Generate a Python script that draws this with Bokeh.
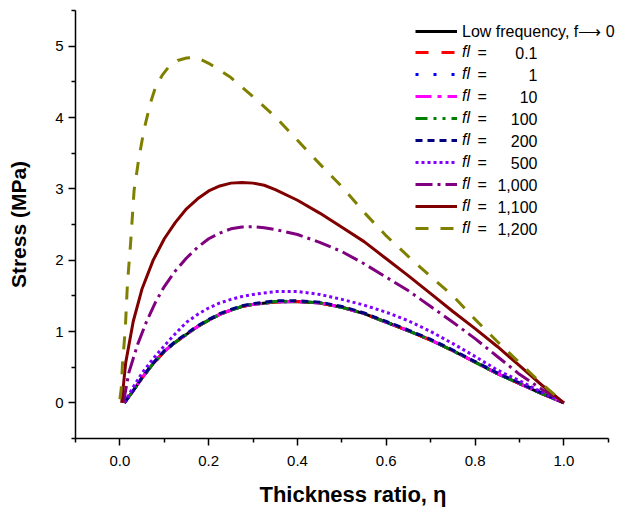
from bokeh.plotting import figure
from bokeh.models import (Range1d, FixedTicker, Legend, LegendItem, Label,
                          PrintfTickFormatter)
from bokeh.core.properties import value
from bokeh.embed import file_html
from bokeh.resources import INLINE

FONT = "Liberation Sans"

# ---------------- axes ----------------
x_major = [0.0, 0.2, 0.4, 0.6, 0.8, 1.0]
x_minor = [-0.1, 0.1, 0.3, 0.5, 0.7, 0.9, 1.1]
y_major = [0, 1, 2, 3, 4, 5]
y_minor = [-0.5, 0.5, 1.5, 2.5, 3.5, 4.5, 5.5]

# ---------------- data ----------------
eta_low = [0.01, 0.03, 0.05, 0.075, 0.1, 0.125, 0.15, 0.175, 0.2, 0.225, 0.25, 0.275,
           0.3, 0.35, 0.4, 0.45, 0.5, 0.55, 0.6, 0.65, 0.7, 0.75, 0.8, 0.85, 0.9, 0.95, 1.0]
stress_f0 = [0.0, 0.17, 0.35, 0.55, 0.72, 0.85, 0.96, 1.07, 1.16, 1.24, 1.30, 1.35,
             1.38, 1.415, 1.42, 1.40, 1.34, 1.25, 1.13, 1.01, 0.88, 0.73, 0.57, 0.41,
             0.27, 0.13, 0.0]
stress_0p1 = [0.0, 0.17, 0.35, 0.55, 0.72, 0.85, 0.96, 1.07, 1.16, 1.24, 1.30, 1.35,
              1.38, 1.415, 1.42, 1.40, 1.34, 1.25, 1.13, 1.01, 0.88, 0.73, 0.57, 0.41,
              0.27, 0.13, 0.0]
stress_1 = [0.0, 0.17, 0.35, 0.55, 0.72, 0.85, 0.96, 1.07, 1.16, 1.24, 1.30, 1.35,
            1.38, 1.415, 1.42, 1.40, 1.34, 1.25, 1.13, 1.01, 0.88, 0.73, 0.57, 0.41,
            0.27, 0.13, 0.0]
stress_10 = [0.0, 0.17, 0.35, 0.55, 0.72, 0.85, 0.96, 1.07, 1.16, 1.24, 1.30, 1.35,
             1.38, 1.415, 1.42, 1.40, 1.34, 1.25, 1.13, 1.01, 0.88, 0.73, 0.57, 0.41,
             0.27, 0.13, 0.0]
stress_100 = [0.0, 0.17, 0.35, 0.55, 0.72, 0.85, 0.96, 1.07, 1.16, 1.24, 1.30, 1.35,
              1.38, 1.42, 1.425, 1.40, 1.34, 1.25, 1.13, 1.01, 0.88, 0.73, 0.57, 0.41,
              0.27, 0.13, 0.0]
stress_200 = [0.0, 0.17, 0.36, 0.56, 0.73, 0.86, 0.97, 1.08, 1.17, 1.25, 1.31, 1.36,
              1.39, 1.43, 1.43, 1.41, 1.35, 1.26, 1.14, 1.02, 0.89, 0.74, 0.58, 0.42,
              0.28, 0.14, 0.0]
stress_500 = [0.0, 0.22, 0.42, 0.62, 0.80, 0.97, 1.13, 1.24, 1.33, 1.40, 1.45, 1.49,
              1.52, 1.56, 1.56, 1.52, 1.45, 1.37, 1.27, 1.15, 1.00, 0.83, 0.65, 0.46,
              0.31, 0.15, 0.0]

eta_1000 = [0.008, 0.02, 0.04, 0.06, 0.08, 0.1, 0.125, 0.15, 0.175, 0.2, 0.225, 0.25,
            0.275, 0.3, 0.325, 0.35, 0.4, 0.45, 0.5, 0.55, 0.6, 0.65, 0.7, 0.75, 0.8,
            0.85, 0.9, 0.95, 1.0]
stress_1000 = [0.0, 0.42, 0.82, 1.14, 1.41, 1.63, 1.85, 2.03, 2.18, 2.30, 2.38, 2.44,
               2.465, 2.47, 2.455, 2.43, 2.36, 2.25, 2.12, 1.95, 1.76, 1.57, 1.35, 1.13,
               0.90, 0.65, 0.40, 0.19, 0.0]

eta_1100 = [0.004, 0.013, 0.03, 0.05, 0.075, 0.1, 0.125, 0.15, 0.175, 0.2, 0.225, 0.25,
            0.275, 0.3, 0.325, 0.35, 0.4, 0.45, 0.5, 0.55, 0.6, 0.65, 0.7, 0.75, 0.8,
            0.85, 0.9, 0.95, 1.0]
stress_1100 = [0.0, 0.56, 1.14, 1.60, 2.00, 2.30, 2.53, 2.72, 2.86, 2.97, 3.04, 3.08,
               3.09, 3.08, 3.05, 2.99, 2.84, 2.66, 2.46, 2.26, 2.02, 1.78, 1.53, 1.28,
               1.04, 0.79, 0.52, 0.25, 0.0]

eta_1200 = [0.0, 0.003, 0.006, 0.012, 0.017, 0.024, 0.032, 0.042, 0.054, 0.069, 0.08,
            0.095, 0.11, 0.13, 0.15, 0.165, 0.18, 0.2, 0.25, 0.3, 0.35, 0.4, 0.45, 0.5,
            0.55, 0.6, 0.65, 0.7, 0.75, 0.8, 0.85, 0.9, 0.95, 1.0]
stress_1200 = [0.05, 0.20, 0.56, 1.02, 1.67, 2.23, 2.98, 3.40, 3.82, 4.21, 4.42,
               4.59, 4.71, 4.80, 4.835, 4.84, 4.82, 4.76, 4.56, 4.29, 4.01, 3.68, 3.35,
               3.03, 2.67, 2.34, 2.05, 1.77, 1.50, 1.17, 0.86, 0.56, 0.27, 0.0]

fl_labels = ["0.1", "1", "10", "100", "200", "500", "1,000", "1,100", "1,200"]
low_label = "Low frequency, f\u27f6 0"

series = [
    (eta_low, stress_f0, "#000000", "solid"),
    (eta_low, stress_0p1, "#FF0000", "13 13"),
    (eta_low, stress_1, "#0000FF", "3 15"),
    (eta_low, stress_10, "#FF00FF", "16 6 4 6"),
    (eta_low, stress_100, "#008000", "12 6 3 6 3 6"),
    (eta_low, stress_200, "#000080", "7 5"),
    (eta_low, stress_500, "#8000FF", "3 3"),
    (eta_1000, stress_1000, "#800080", "17 5 3 5"),
    (eta_1100, stress_1100, "#800000", "solid"),
    (eta_1200, stress_1200, "#808000", "13 12"),
]

W, H = 630, 509
p = figure(width=W, height=H, output_backend="svg", toolbar_location=None,
           x_range=Range1d(-0.1, 1.15), y_range=Range1d(-0.5, 5.5),
           min_border_left=75, min_border_right=0, min_border_top=10, min_border_bottom=70)
p.outline_line_color = None
p.grid.visible = False
p.background_fill_color = "white"
p.border_fill_color = "white"

renderers = []
for xs, ys, col, dash in series:
    r = p.line(xs, ys, line_color=col, line_width=3, line_dash=dash)
    renderers.append(r)

# axes
for ax in (p.xaxis[0], p.yaxis[0]):
    ax.axis_line_width = 1.5
    ax.axis_line_color = "black"
    ax.major_tick_line_width = 1.5
    ax.minor_tick_line_width = 1.5
    ax.major_tick_line_color = "black"
    ax.minor_tick_line_color = "black"
    ax.major_tick_in = 0
    ax.minor_tick_in = 0
    ax.major_tick_out = 7
    ax.minor_tick_out = 4
    ax.major_label_text_font = FONT
    ax.major_label_text_font_size = "15px"
    ax.major_label_text_color = "black"
    ax.axis_label_text_font = FONT
    ax.axis_label_text_font_style = "bold"
    ax.axis_label_text_color = "black"

p.xaxis.bounds = (-0.1, 1.1)
p.xaxis.ticker = FixedTicker(ticks=x_major, minor_ticks=x_minor)
p.yaxis.ticker = FixedTicker(ticks=y_major, minor_ticks=y_minor)
p.xaxis.formatter = PrintfTickFormatter(format="%.1f")
p.yaxis.formatter = PrintfTickFormatter(format="%d")
p.xaxis.axis_label = "Thickness ratio, \u03b7"
p.yaxis.axis_label = "Stress (MPa)"
p.xaxis.axis_label_text_font_size = "22px"
p.yaxis.axis_label_text_font_size = "21px"
p.xaxis.major_label_standoff = 10
p.yaxis.major_label_standoff = 5
p.xaxis.axis_label_standoff = 13
p.yaxis.axis_label_standoff = 22

# legend
pitch = 22
common = dict(orientation="vertical", padding=0, spacing=0, margin=0,
              glyph_width=42, glyph_height=pitch, label_height=pitch,
              label_standoff=5, label_text_font=FONT, label_text_font_size="16px",
              label_text_color="black", border_line_alpha=0, background_fill_alpha=0)
legA = Legend(items=[LegendItem(label=value(low_label), renderers=[renderers[0]])],
              location=(340, 396), **common)
legB = Legend(items=[LegendItem(label=value("fl"), renderers=[r]) for r in renderers[1:]],
              location=(340, 199), label_text_font_style="italic", **common)
p.add_layout(legA)
p.add_layout(legB)

for i, txt in enumerate(fl_labels):
    yc = 439 - (53.3 + i * pitch)
    p.add_layout(Label(x=402, y=yc, x_units="screen", y_units="screen", text="=",
                       text_font=FONT, text_font_size="16px", text_color="black",
                       text_baseline="middle", text_align="left"))
    p.add_layout(Label(x=462, y=yc, x_units="screen", y_units="screen", text=txt,
                       text_font=FONT, text_font_size="16px", text_color="black",
                       text_baseline="middle", text_align="right"))

open("out.html", "w").write(file_html(p, INLINE))
